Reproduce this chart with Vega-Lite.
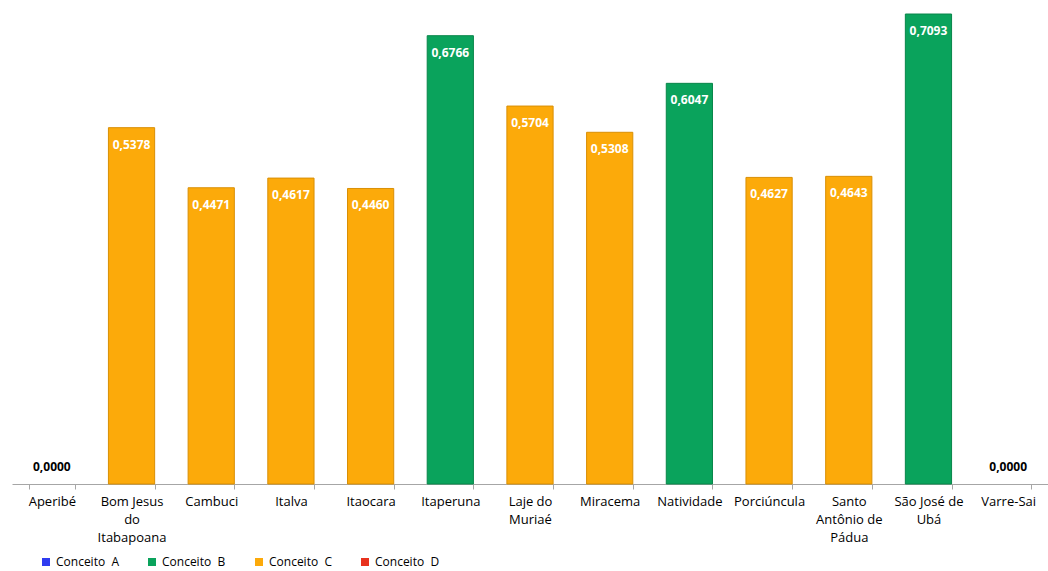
{
  "$schema": "https://vega.github.io/schema/vega-lite/v6.json",
  "width": 1036,
  "height": 477,
  "autosize": {"type": "none"},
  "padding": {"left": 12, "top": 7, "right": 0, "bottom": 87},
  "config": {
    "locale": {"number": {"decimal": ",", "thousands": ".", "grouping": [3], "currency": ["R$", ""]}},
    "font": "Open Sans",
    "view": {"stroke": null}
  },
  "data": {
    "values": [
      {"municipio": "Aperibé", "valor": 0.0, "conceito": "Conceito A"},
      {"municipio": "Bom Jesus do Itabapoana", "valor": 0.5378, "conceito": "Conceito C"},
      {"municipio": "Cambuci", "valor": 0.4471, "conceito": "Conceito C"},
      {"municipio": "Italva", "valor": 0.4617, "conceito": "Conceito C"},
      {"municipio": "Itaocara", "valor": 0.4460, "conceito": "Conceito C"},
      {"municipio": "Itaperuna", "valor": 0.6766, "conceito": "Conceito B"},
      {"municipio": "Laje do Muriaé", "valor": 0.5704, "conceito": "Conceito C"},
      {"municipio": "Miracema", "valor": 0.5308, "conceito": "Conceito C"},
      {"municipio": "Natividade", "valor": 0.6047, "conceito": "Conceito B"},
      {"municipio": "Porciúncula", "valor": 0.4627, "conceito": "Conceito C"},
      {"municipio": "Santo Antônio de Pádua", "valor": 0.4643, "conceito": "Conceito C"},
      {"municipio": "São José de Ubá", "valor": 0.7093, "conceito": "Conceito B"},
      {"municipio": "Varre-Sai", "valor": 0.0, "conceito": "Conceito D"}
    ]
  },
  "encoding": {
    "x": {
      "field": "municipio",
      "type": "nominal",
      "sort": ["Aperibé", "Bom Jesus do Itabapoana", "Cambuci", "Italva", "Itaocara", "Itaperuna", "Laje do Muriaé", "Miracema", "Natividade", "Porciúncula", "Santo Antônio de Pádua", "São José de Ubá", "Varre-Sai"],
      "scale": {"paddingInner": 0.42, "paddingOuter": 0.21},
      "axis": {
        "title": null,
        "labelAngle": 0,
        "labelFontSize": 13,
        "labelColor": "#000000",
        "labelPadding": 6,
        "labelLineHeight": 18,
        "labelBaseline": "top",
        "labelLimit": 200,
        "domainColor": "#a6a6a6",
        "tickColor": "#a6a6a6",
        "tickSize": 5,
        "tickBand": "extent",
        "labelExpr": "datum.label == 'Bom Jesus do Itabapoana' ? ['Bom Jesus', 'do', 'Itabapoana'] : datum.label == 'Laje do Muriaé' ? ['Laje do', 'Muriaé'] : datum.label == 'Santo Antônio de Pádua' ? ['Santo', 'Antônio de', 'Pádua'] : datum.label == 'São José de Ubá' ? ['São José de', 'Ubá'] : datum.label"
      }
    },
    "y": {
      "field": "valor",
      "type": "quantitative",
      "scale": {"domain": [0, 0.7199], "nice": false},
      "axis": null
    }
  },
  "layer": [
    {
      "transform": [{"filter": "datum.valor > 0"}],
      "mark": {"type": "bar", "strokeWidth": 1},
      "encoding": {
        "color": {
          "field": "conceito",
          "type": "nominal",
          "scale": {
            "domain": ["Conceito A", "Conceito B", "Conceito C", "Conceito D"],
            "range": ["#2f3cf0", "#0aa35c", "#fcaa0a", "#e8321e"]
          },
          "legend": {
            "title": null,
            "orient": "none",
            "direction": "horizontal",
            "columns": 4,
            "legendX": 28,
            "legendY": 549,
            "symbolType": "square",
            "symbolSize": 64,
            "symbolStrokeWidth": 0,
            "labelFontSize": 12,
            "labelColor": "#000000",
            "columnPadding": 27,
            "labelExpr": "replace(datum.label, ' ', '\u00a0\u00a0')"
          }
        },
        "stroke": {
          "field": "conceito",
          "type": "nominal",
          "scale": {
            "domain": ["Conceito A", "Conceito B", "Conceito C", "Conceito D"],
            "range": ["#2530c0", "#08864a", "#d98f05", "#b82815"]
          },
          "legend": null
        }
      }
    },
    {
      "transform": [{"filter": "datum.valor > 0"}],
      "mark": {"type": "text", "baseline": "middle", "dy": 17, "fontWeight": "bold", "fontSize": 12, "color": "#ffffff"},
      "encoding": {"text": {"field": "valor", "type": "quantitative", "format": ".4f"}}
    },
    {
      "transform": [{"filter": "datum.valor == 0"}],
      "mark": {"type": "text", "baseline": "bottom", "dy": -10, "fontWeight": "bold", "fontSize": 12, "color": "#000000"},
      "encoding": {"text": {"field": "valor", "type": "quantitative", "format": ".4f"}}
    }
  ]
}
